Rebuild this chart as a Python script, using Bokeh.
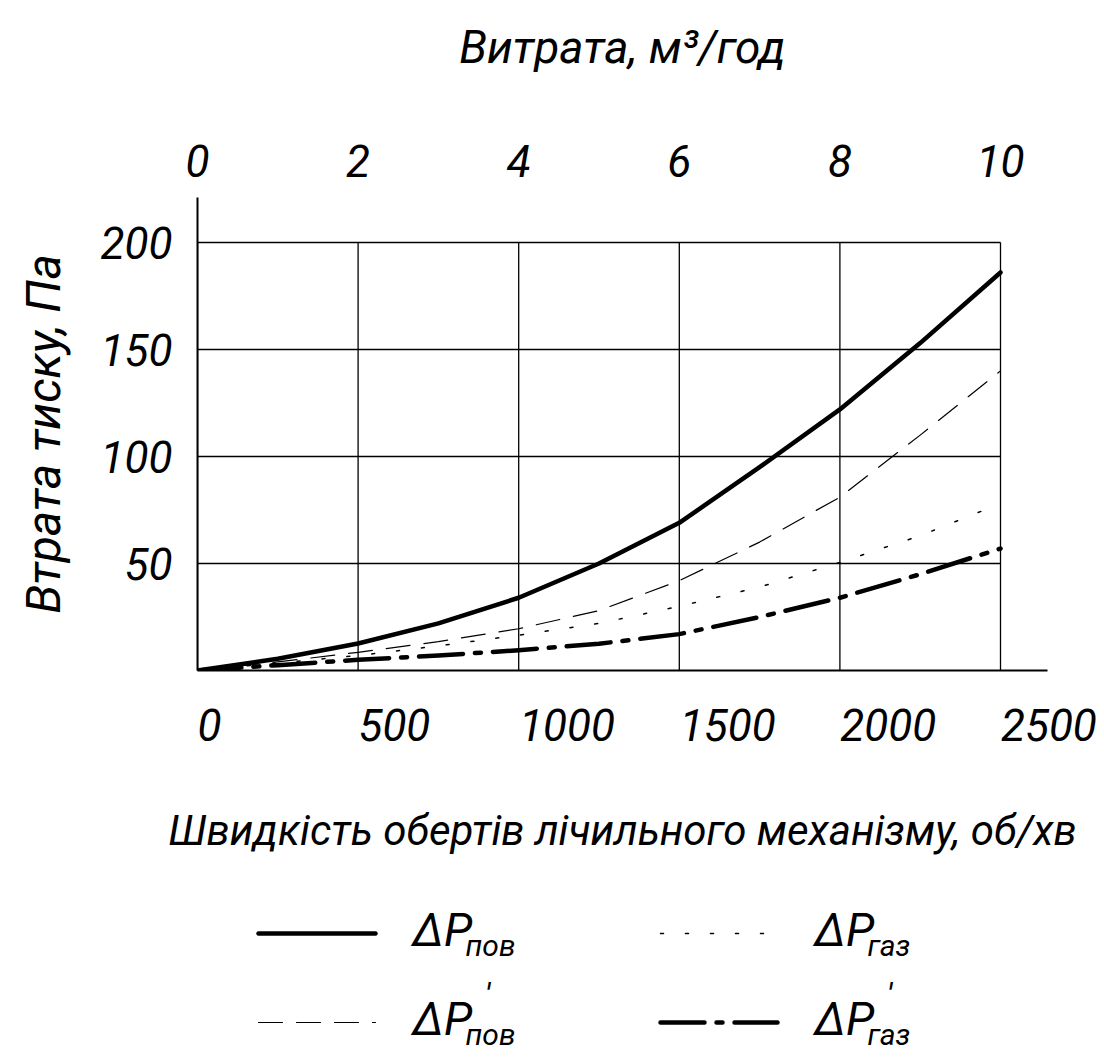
from bokeh.plotting import figure
from bokeh.models import Range1d, LinearAxis, FixedTicker
from bokeh.layouts import column
from bokeh.embed import file_html
from bokeh.resources import INLINE
from bokeh.core.properties import value

# ---------------- data ----------------
speed = [0, 250, 500, 750, 1000, 1250, 1500, 1750, 2000, 2250, 2500]          # об/хв
dp_pov = [0, 5.5, 12.6, 22, 34, 50, 69, 95, 122, 153, 186]                  # ΔP пов
dp_pov_prime = [0, 4, 8.5, 13.5, 19.5, 28, 42, 60, 81, 110, 140]            # ΔP' пов
dp_gaz = [0, 3.5, 7, 11.5, 16.5, 22, 30, 39, 50.5, 63, 78]                  # ΔP газ
dp_gaz_prime = [0, 2.5, 5, 7, 9.5, 12.5, 17, 25, 34, 45, 57]                # ΔP' газ

speed_ticks = [0, 500, 1000, 1500, 2000, 2500]
flow_ticks = [0, 2, 4, 6, 8, 10]
pressure_ticks = [50, 100, 150, 200]
SPEED_MAX = 2500
FLOW_MAX = 10
P_MAX = 200

x_title = "Швидкість обертів лічильного механізму, об/хв"
x2_title = "Витрата, м³/год"
y_title = "Втрата тиску, Па"

legend_main = ["ΔP", "ΔP", "ΔP", "ΔP"]
legend_sub = ["пов", "газ", "пов", "газ"]
legend_prime = ["", "", "'", "'"]

# ---------------- layout constants (page px) ----------------
FONT = "Roboto"
FS_TICK = "44px"
FS_TITLE = "46px"
W = 1104
H1 = 870
FR_L, FR_R, FR_T, FR_B = 197, 1047, 197, 670   # frame box
GRID_R_PX = 1000    # where SPEED_MAX sits
GRID_T_PX = 242     # where P_MAX sits

x_end = SPEED_MAX * (FR_R - FR_L) / (GRID_R_PX - FR_L)
y_end = P_MAX * (FR_B - FR_T) / (FR_B - GRID_T_PX)

p = figure(width=W, height=H1, x_range=Range1d(0, x_end), y_range=Range1d(0, y_end),
           output_backend="svg", toolbar_location=None,
           min_border_left=FR_L, min_border_right=W - FR_R,
           min_border_top=FR_T, min_border_bottom=H1 - FR_B,
           outline_line_color=None, background_fill_color="white")
p.xgrid.visible = False
p.ygrid.visible = False

def style_axis(ax, ticks, standoff, title, title_standoff, title_size=FS_TITLE):
    ax.ticker = FixedTicker(ticks=ticks)
    ax.major_tick_line_color = None
    ax.minor_tick_line_color = None
    ax.major_label_text_font = FONT
    ax.major_label_text_font_style = "italic"
    ax.major_label_text_font_size = FS_TICK
    ax.major_label_text_color = "black"
    ax.major_label_standoff = standoff
    ax.axis_label = title
    ax.axis_label_text_font = FONT
    ax.axis_label_text_font_style = "italic"
    ax.axis_label_text_font_size = title_size
    ax.axis_label_text_color = "black"
    ax.axis_label_standoff = title_standoff
    ax.axis_line_color = "black"
    ax.axis_line_width = 2

# bottom axis: labels start at their grid line (figure spaces pad them to the left)
xb = p.xaxis[0]
style_axis(xb, speed_ticks, 23, x_title, 51, "42px")
xb.major_label_overrides = {t: "\u2007" * len(str(t)) + str(t) for t in speed_ticks}

yl = p.yaxis[0]
style_axis(yl, pressure_ticks, 19, y_title, 26, "48px")

p.extra_x_ranges = {"flow": Range1d(0, FLOW_MAX * x_end / SPEED_MAX)}
xt = LinearAxis(x_range_name="flow")
style_axis(xt, flow_ticks, 15, x2_title, 68)
xt.axis_line_color = None
p.add_layout(xt, "above")

# grid drawn as segments so that it stops at the last tick
p.segment(x0=speed_ticks, y0=[0] * len(speed_ticks), x1=speed_ticks, y1=[P_MAX] * len(speed_ticks),
          line_color="black", line_width=1.3)
p.segment(x0=[0] * len(pressure_ticks), y0=pressure_ticks, x1=[SPEED_MAX] * len(pressure_ticks),
          y1=pressure_ticks, line_color="black", line_width=1.3)

styles = [
    dict(line_width=4.5, line_dash="solid"),
    dict(line_width=1.5, line_dash="3 22"),
    dict(line_width=1.2, line_dash="24 14"),
    dict(line_width=4.5, line_dash="44 12 6 12"),
]
series = [dp_pov, dp_gaz, dp_pov_prime, dp_gaz_prime]
for ys, st in zip(series, styles):
    p.line(speed, ys, line_color="black", line_cap="round", line_join="round", **st)

# ---------------- legend (its frame is aligned with the plot frame) ----------------
H2 = 187
leg = figure(width=W, height=H2, x_range=Range1d(FR_L, FR_R), y_range=Range1d(H2, 0),
             output_backend="svg", toolbar_location=None, x_axis_type=None, y_axis_type=None,
             min_border=0, outline_line_color=None)
leg.xgrid.visible = False
leg.ygrid.visible = False

col_x = [258, 660]        # page x where the sample line starts
row_y = [63, 152]         # y inside legend strip
LINE_LEN = 117
for i, st in enumerate(styles):
    c, r = i % 2, i // 2
    leg.segment(x0=[col_x[c]], y0=[row_y[r]], x1=[col_x[c] + LINE_LEN], y1=[row_y[r]],
                line_color="black", line_cap="round", **st)

tx = [col_x[i % 2] + 154 for i in range(4)]
ty = [row_y[i // 2] - 4 for i in range(4)]
leg.text(x=tx, y=ty, text=legend_main, text_font=value(FONT), text_font_style="italic",
         text_font_size="46px", text_baseline="alphabetic", text_align="left", text_color="black")
leg.text(x=[v + 53 for v in tx], y=[v + 16 for v in ty], text=legend_sub, text_font=value(FONT),
         text_font_style="italic", text_font_size="30px", text_baseline="alphabetic",
         text_align="left", text_color="black")
leg.text(x=[v + 72 for v in tx], y=[v - 44 for v in ty], text=legend_prime, text_font=value(FONT),
         text_font_style="italic", text_font_size="34px", text_baseline="top",
         text_align="left", text_color="black")

layout = column(p, leg, spacing=0)
open("out.html", "w").write(file_html(layout, INLINE))
